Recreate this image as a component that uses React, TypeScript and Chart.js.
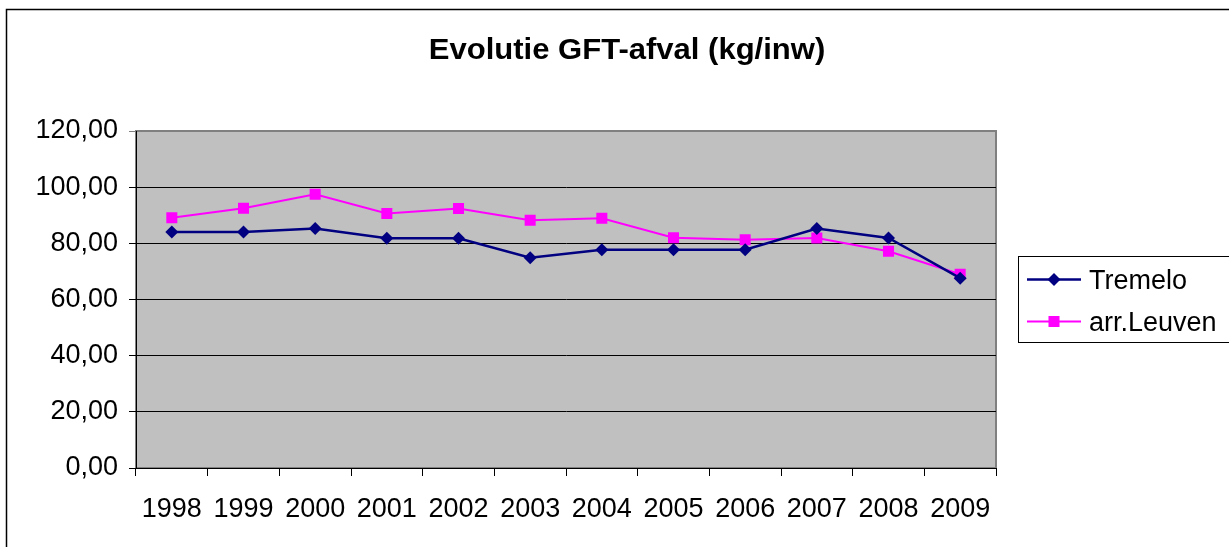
import React, { useEffect, useRef } from 'react';
import { Chart, registerables } from 'chart.js';

Chart.register(...registerables);

const chartTitle = 'Evolutie GFT-afval (kg/inw)';
const years = ['1998', '1999', '2000', '2001', '2002', '2003', '2004', '2005', '2006', '2007', '2008', '2009'];
const tremelo = [84.0, 84.0, 85.3, 81.8, 81.8, 74.9, 77.7, 77.7, 77.7, 85.3, 81.9, 67.6];
const leuven = [89.1, 92.5, 97.5, 90.6, 92.4, 88.2, 88.9, 82.0, 81.3, 81.9, 77.2, 69.0];
const seriesNames = ['Tremelo', 'arr.Leuven'];
const yMin = 0;
const yMax = 120;
const yStep = 20;

const FONT = "'Liberation Sans', Arial, sans-serif";

function drawMarker(ctx: CanvasRenderingContext2D, style: string, x: number, y: number, r: number, color: string) {
  ctx.save();
  ctx.fillStyle = color;
  ctx.beginPath();
  if (style === 'rectRot') {
    ctx.moveTo(x - r, y);
    ctx.lineTo(x, y - r);
    ctx.lineTo(x + r, y);
    ctx.lineTo(x, y + r);
    ctx.closePath();
  } else {
    const s = Math.SQRT1_2 * r;
    ctx.rect(x - s, y - s, 2 * s, 2 * s);
  }
  ctx.fill();
  ctx.restore();
}

const decorPlugin = {
  id: 'decor',
  beforeDraw(chart: any) {
    const { ctx, chartArea: a } = chart;
    ctx.save();
    ctx.fillStyle = '#ffffff';
    ctx.fillRect(0, 0, chart.width, chart.height);
    // outer chart border (top & left visible)
    ctx.strokeStyle = '#000000';
    ctx.lineWidth = 1.5;
    ctx.beginPath();
    ctx.moveTo(6.5, chart.height + 2);
    ctx.lineTo(6.5, 9.5);
    ctx.lineTo(chart.width + 2, 9.5);
    ctx.stroke();
    // plot area
    ctx.fillStyle = '#C0C0C0';
    ctx.fillRect(a.left, a.top, a.right - a.left, a.bottom - a.top);
    ctx.strokeStyle = '#808080';
    ctx.lineWidth = 2;
    ctx.strokeRect(a.left, a.top, a.right - a.left, a.bottom - a.top);
    ctx.restore();
  },
  afterDraw(chart: any) {
    const { ctx, chartArea: a } = chart;
    ctx.save();
    // title
    ctx.fillStyle = '#000000';
    ctx.font = `bold 29px ${FONT}`;
    ctx.textAlign = 'center';
    ctx.textBaseline = 'alphabetic';
    ctx.save();
    ctx.translate(627, 59);
    ctx.scale(1.07, 1);
    ctx.fillText(chartTitle, 0, 0);
    ctx.restore();
    // legend
    const lx = a.right + 22;
    const ly = 256;
    ctx.strokeStyle = '#000000';
    ctx.lineWidth = 1;
    ctx.strokeRect(lx + 0.5, ly + 0.5, 400, 86);
    ctx.font = `27px ${FONT}`;
    ctx.textAlign = 'left';
    chart.data.datasets.forEach((ds: any, i: number) => {
      const cy = ly + 23.5 + i * 42;
      ctx.strokeStyle = ds.borderColor;
      ctx.lineWidth = ds.borderWidth;
      ctx.beginPath();
      ctx.moveTo(lx + 9, cy);
      ctx.lineTo(lx + 63, cy);
      ctx.stroke();
      drawMarker(ctx, ds.pointStyle, lx + 36, cy, ds.pointRadius, ds.pointBackgroundColor);
      ctx.fillStyle = '#000000';
      ctx.fillText(ds.label, lx + 71, cy + 9.5);
    });
    ctx.restore();
  },
};

export default function App() {
  const ref = useRef<HTMLCanvasElement | null>(null);

  useEffect(() => {
    if (!ref.current) return;
    const chart = new Chart(ref.current, {
      type: 'line',
      data: {
        labels: years,
        datasets: [
          {
            label: seriesNames[0],
            data: tremelo,
            borderColor: '#000080',
            backgroundColor: '#000080',
            pointBackgroundColor: '#000080',
            pointBorderColor: '#000080',
            borderWidth: 2.5,
            pointStyle: 'rectRot',
            pointRadius: 6.5,
            pointBorderWidth: 0,
            tension: 0,
          },
          {
            label: seriesNames[1],
            data: leuven,
            borderColor: '#FF00FF',
            backgroundColor: '#FF00FF',
            pointBackgroundColor: '#FF00FF',
            pointBorderColor: '#FF00FF',
            borderWidth: 2,
            pointStyle: 'rect',
            pointRadius: 7.8,
            pointBorderWidth: 0,
            tension: 0,
          },
        ],
      },
      options: {
        responsive: false,
        animation: false,
        events: [],
        layout: { padding: { top: 131, right: 233, left: 0, bottom: 0 } },
        plugins: {
          legend: { display: false },
          title: { display: false },
          tooltip: { enabled: false },
        },
        scales: {
          x: {
            offset: true,
            afterFit: (scale: any) => {
              scale.height = 79;
            },
            grid: {
              offset: true,
              drawOnChartArea: false,
              drawTicks: true,
              tickLength: 8,
              color: '#000000',
            },
            border: { display: true, color: '#000000', width: 1 },
            ticks: {
              color: '#000000',
              font: { family: FONT, size: 27 },
              padding: 17,
              maxRotation: 0,
              autoSkip: false,
            },
          },
          y: {
            min: yMin,
            max: yMax,
            afterFit: (scale: any) => {
              scale.width = 136;
            },
            grid: {
              color: (c: any) => (c.tick && c.tick.value === yMax ? '#808080' : '#000000'),
              drawTicks: true,
              tickLength: 7,
            },
            border: { display: true, color: '#000000', width: 1 },
            ticks: {
              stepSize: yStep,
              color: '#000000',
              font: { family: FONT, size: 27 },
              padding: 11,
              callback: (v: any) => Number(v).toFixed(2).replace('.', ','),
            },
          },
        },
      },
      plugins: [decorPlugin],
    });
    return () => chart.destroy();
  }, []);

  return (
    <canvas
      ref={ref}
      width={1229}
      height={547}
      style={{ position: 'fixed', left: 0, top: 0, width: 1229, height: 547 }}
    />
  );
}
